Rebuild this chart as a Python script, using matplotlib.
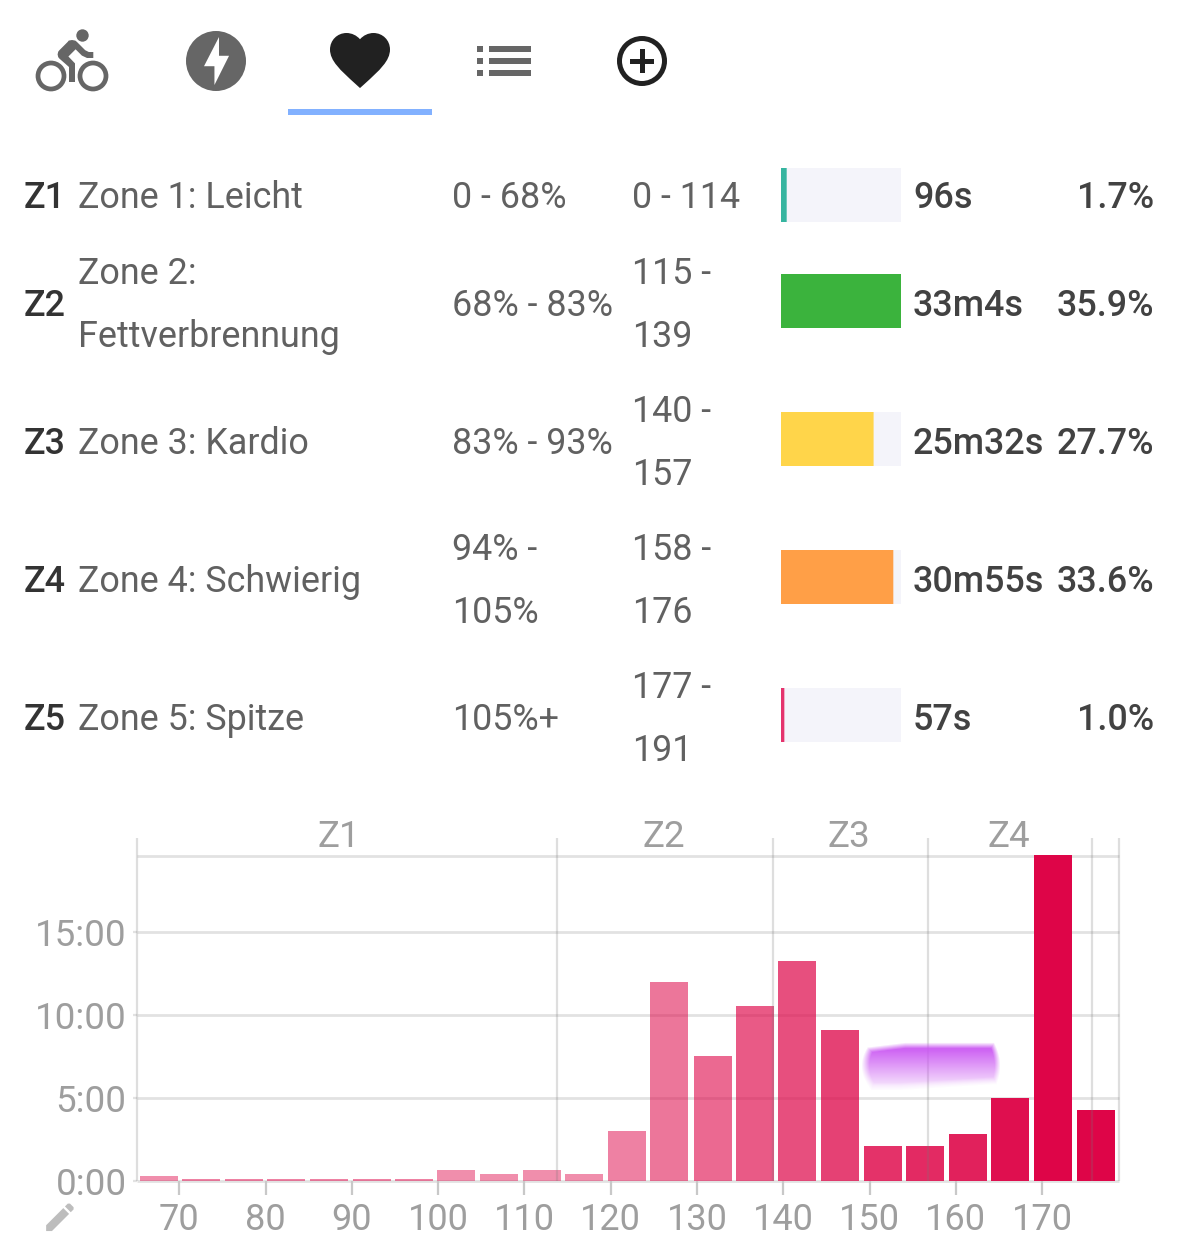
#!/usr/bin/env python3
"""Heart rate zone screen: icon tabs, zone table and time-in-bpm histogram."""

import matplotlib
matplotlib.use("Agg")
import matplotlib.pyplot as plt
import numpy as np
from matplotlib.patches import Circle, PathPatch, Polygon, Rectangle
from matplotlib.path import Path

W, H = 1179, 1249

# ── Zone table ────────────────────────────────────────────────────────────────
zone_ids = ["Z1", "Z2", "Z3", "Z4", "Z5"]
zone_names = ["Zone 1: Leicht", "Zone 2:\nFettverbrennung", "Zone 3: Kardio",
              "Zone 4: Schwierig", "Zone 5: Spitze"]
zone_ftp = ["0 - 68%", "68% - 83%", "83% - 93%", "94% -\n105%", "105%+"]
zone_bpm = ["0 - 114", "115 -\n139", "140 -\n157", "158 -\n176", "177 -\n191"]
zone_time = ["96s", "33m4s", "25m32s", "30m55s", "57s"]
zone_pct = [1.7, 35.9, 27.7, 33.6, 1.0]
zone_colors = ["#36B5A0", "#3BB33D", "#FFD54A", "#FF9F47", "#E5336D"]
row_y = [194, 302, 440, 578, 716]
bar_y = [195, 301, 439, 577, 715]

# ── Histogram ─────────────────────────────────────────────────────────────────
bin_centers = [67.6, 72.5, 77.5, 82.4, 87.3, 92.3, 97.2, 102.1, 107.1, 112.0,
               116.9, 121.9, 126.8, 131.8, 136.7, 141.6, 146.6, 151.5, 156.4,
               161.4, 166.3, 171.2, 176.2]
minutes = [0.3, 0.1, 0.1, 0.1, 0.1, 0.1, 0.1, 0.65, 0.45, 0.65, 0.45, 3.0,
           12.0, 7.5, 10.55, 13.25, 9.1, 2.1, 2.1, 2.8, 5.0, 19.6, 4.25]
bar_alpha = [0.45, 0.5, 0.5, 0.5, 0.5, 0.5, 0.5, 0.45, 0.45, 0.45, 0.45, 0.5,
             0.55, 0.6, 0.66, 0.7, 0.76, 0.82, 0.85, 0.89, 0.96, 1.0, 1.0]
x_ticks = [70, 80, 90, 100, 110, 120, 130, 140, 150, 160, 170]
y_ticks = [0, 5, 10, 15]
y_tick_labels = ["0:00", "5:00", "10:00", "15:00"]
zone_edges = [65.1, 113.8, 138.8, 156.8, 175.8, 178.9]
band_labels = ["Z1", "Z2", "Z3", "Z4"]
band_centers = [88.5, 126.1, 147.6, 166.1]

BAR_COLOR = "#DE0548"
GRID = "#E2E2E2"
LABEL = "#9E9E9E"
ICON_GREY = "#666666"
ICON_DARK = "#212121"

plt.rcParams["font.family"] = ["Roboto", "DejaVu Sans"]

fig = plt.figure(figsize=(W / 100, H / 100), dpi=100, facecolor="white")


def px_axes(left, top, right, bottom):
    """Axes placed by pixel box, top-left origin."""
    return fig.add_axes([left / W, 1 - bottom / H, (right - left) / W, (bottom - top) / H])


# ── Overlay in pixel coordinates for the icons and table text ─────────────────
ui = px_axes(0, 0, W, H)
ui.set_xlim(0, W)
ui.set_ylim(H, 0)
ui.axis("off")


def grid24(points, x0, y0, scale):
    return [(x0 + u * scale, y0 + v * scale) for u, v in points]


# bike
BIKE = (36, 25, 3.0)
for u in (5, 19):
    cx, cy = grid24([(u, 17)], *BIKE)[0]
    ui.add_patch(Circle((cx, cy), 13, fill=False, ec=ICON_GREY, lw=3.4))
hx, hy = grid24([(15.5, 3.5)], *BIKE)[0]
ui.add_patch(Circle((hx, hy), 6.2, color=ICON_GREY, lw=0))
bike_body = [(10.8, 10.5), (13.2, 8.1), (14, 8.9), (15.3, 10.2), (17, 11), (19.1, 11),
             (19.1, 9), (17.6, 9), (16.4, 8.4), (15.5, 7.5), (13.6, 5.6), (13.1, 5.2),
             (12, 5), (10.9, 5.2), (10.6, 5.6), (7.8, 8.4), (7.4, 8.9), (7.2, 9.8),
             (7.4, 10.7), (7.8, 11.2), (11, 14), (11, 19), (13, 19), (13, 12.8)]
ui.add_patch(Polygon(grid24(bike_body, *BIKE), color=ICON_GREY, lw=0))

# bolt in a circle
ui.add_patch(Circle((216, 61), 30, color=ICON_GREY, lw=0))
bolt = [(11.48, 20), (11.48, 13.74), (8, 13.74), (13, 4), (13, 10.26), (16.35, 10.26)]
ui.add_patch(Polygon(grid24(bolt, 180, 25, 3.0), color="white", lw=0))

# heart, selected tab
HX, HY, HS = 324, 24, 3.0
heart_verts = [(12, 21.35), (10.55, 20.03), (5.4, 15.36), (2, 12.28), (2, 8.5),
               (2, 5.42), (4.42, 3), (7.5, 3), (9.24, 3), (10.91, 3.81), (12, 5.09),
               (13.09, 3.81), (14.76, 3), (16.5, 3), (19.58, 3), (22, 5.42), (22, 8.5),
               (22, 12.28), (18.6, 15.36), (13.45, 20.04), (12, 21.35)]
heart_codes = [Path.MOVETO, Path.LINETO] + [Path.CURVE4] * 18 + [Path.LINETO]
ui.add_patch(PathPatch(Path(grid24(heart_verts, HX, HY, HS), heart_codes),
                       fc=ICON_DARK, ec="none"))
ui.add_patch(Rectangle((288, 109), 144, 6, color="#82B1FF", lw=0))

# list
for y in (46, 58, 70):
    ui.add_patch(Rectangle((477, y), 6, 6, color=ICON_GREY, lw=0))
    ui.add_patch(Rectangle((489, y), 42, 6, color=ICON_GREY, lw=0))

# plus in a circle
ui.add_patch(Circle((642, 61), 22.5, fill=False, ec=ICON_DARK, lw=3.6))
ui.add_patch(Rectangle((630, 59), 24, 5, color=ICON_DARK, lw=0))
ui.add_patch(Rectangle((640, 49), 5, 24, color=ICON_DARK, lw=0))

# pencil
PEN = (41.5, 1198.5, 1.55)
ui.add_patch(Polygon(grid24([(3, 17.25), (3, 21), (6.75, 21), (17.81, 9.94), (14.06, 6.19)], *PEN),
                     color="#BDBDBD", lw=0))
ui.add_patch(Polygon(grid24([(20.71, 7.04), (20.71, 5.63), (18.37, 3.29), (16.96, 3.29),
                             (15.13, 5.12), (18.88, 8.87)], *PEN), color="#BDBDBD", lw=0))

# ── Table rows ────────────────────────────────────────────────────────────────
TEXT = "#616161"
FS = 25.8
LINE_GAP = 31.5


def cell(x, y, s, color=TEXT, weight="normal", ha="left"):
    lines = s.split("\n")
    offsets = [0] if len(lines) == 1 else [-LINE_GAP - 1, LINE_GAP - 1]
    for line, dy in zip(lines, offsets):
        ui.text(x, y + dy, line, fontsize=FS, color=color, fontweight=weight,
                ha=ha, va="center_baseline")


for i, y in enumerate(row_y):
    cell(24, y, zone_ids[i], color="#333333", weight="medium")
    cell(78, y, zone_names[i])
    cell(452, y, zone_ftp[i])
    cell(632, y, zone_bpm[i])
    cell(913, y, zone_time[i], color="#424242", weight="medium")
    cell(1154, y, f"{zone_pct[i]:.1f}%", color="#424242", weight="medium", ha="right")

# ── Zone share bars, scaled to the largest share ──────────────────────────────
share = px_axes(781, 0, 901, H)
share.set_xlim(0, max(zone_pct))
share.set_ylim(H, 0)
share.axis("off")
share.barh(bar_y, [max(zone_pct)] * 5, height=54, left=0, color="#F4F4FA", lw=0)
for bar in share.barh(bar_y, zone_pct, height=54, left=0, color=zone_colors, lw=0):
    bar.set_snap(False)

# ── Histogram ─────────────────────────────────────────────────────────────────
ax = px_axes(137, 856, 1119, 1181)
ax.set_xlim(zone_edges[0], zone_edges[-1])
ax.set_ylim(0, 19.55)
ax.patch.set_alpha(0)
for spine in ax.spines.values():
    spine.set_visible(False)

for y in y_ticks + [19.55]:
    ax.axhline(y, color=GRID, lw=2, zorder=1, clip_on=False, solid_capstyle="butt")

ax.bar(bin_centers, minutes, width=4.4, color=BAR_COLOR, lw=0, zorder=2, clip_on=False)
for bar, alpha in zip(ax.patches, bar_alpha):
    bar.set_alpha(alpha)
ax.vlines(zone_edges, 0, 20.65, color="#777777", lw=1.6, alpha=0.24, zorder=3, clip_on=False)

ax.set_xticks(x_ticks)
ax.set_xticklabels([str(v) for v in x_ticks])
ax.set_yticks(y_ticks)
ax.set_yticklabels(y_tick_labels)
ax.tick_params(axis="x", length=10, width=1.6, color="#C8C8C8", labelcolor=LABEL,
               labelsize=26, pad=5)
ax.tick_params(axis="y", length=3, width=1.6, color=GRID, labelcolor=LABEL,
               labelsize=26.5, pad=4.5)

for label, center in zip(band_labels, band_centers):
    ax.text(center, 20.96, label, fontsize=26.5, color=LABEL, ha="center", va="center_baseline",
            clip_on=False)

# ── Purple scribble over the chart, soft edged ────────────────────────────────
sx = np.linspace(860, 1002, 142)
sy = np.linspace(1038, 1094, 56)
gx, gy = np.meshgrid(sx, sy)
top_edge = 1042 + 5 * np.clip((905 - gx) / 40, 0, 1)
bottom_edge = 1091 - 6 * np.clip((gx - 900) / 95, 0, 1)
left_edge = 861 + 0.016 * (gy - 1066) ** 2
right_edge = 1001 - 0.011 * (gy - 1066) ** 2
edge = np.clip(np.minimum.reduce([(gx - left_edge) / 8, (right_edge - gx) / 6,
                                  (gy - top_edge) / 6, (bottom_edge - gy) / 8]), 0, 1)
fade = 0.9 - 0.72 * np.clip((gy - 1050) / 36, 0, 1)
rgba = np.zeros((56, 142, 4))
rgba[..., 0] = 0.79
rgba[..., 1] = 0.33
rgba[..., 2] = 0.95
rgba[..., 3] = edge * fade
ui.set_zorder(5)
ui.imshow(rgba, extent=(860, 1002, 1094, 1038), aspect="auto", interpolation="bilinear", zorder=4)
ui.set_xlim(0, W)
ui.set_ylim(H, 0)

fig.savefig("out.png", dpi=100, facecolor="white")
